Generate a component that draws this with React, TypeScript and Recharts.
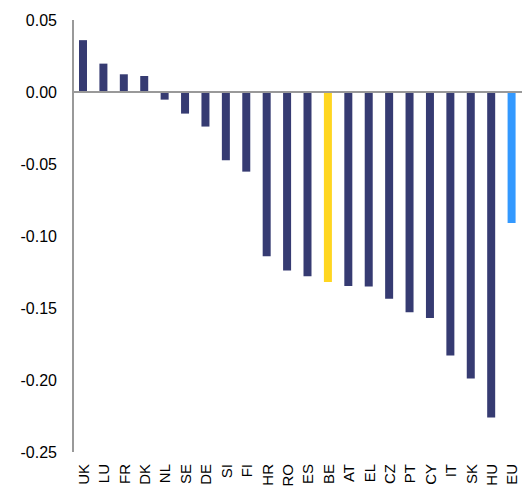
import { BarChart, Bar, XAxis, YAxis, Cell, ReferenceLine } from "recharts";

const countries = ["UK", "LU", "FR", "DK", "NL", "SE", "DE", "SI", "FI", "HR", "RO", "ES", "BE", "AT", "EL", "CZ", "PT", "CY", "IT", "SK", "HU", "EU"];
const values = [0.036, 0.0197, 0.0123, 0.0111, -0.0053, -0.015, -0.024, -0.0474, -0.0553, -0.114, -0.124, -0.128, -0.132, -0.1347, -0.135, -0.1435, -0.153, -0.157, -0.183, -0.199, -0.226, -0.091];
const yTicks = [0.05, 0, -0.05, -0.1, -0.15, -0.2, -0.25];

const NAVY = "#363B72";
const BE_YELLOW = "#FFD620";
const EU_BLUE = "#3399FF";

const data = countries.map((c, i) => ({ country: c, value: values[i] }));

function barColor(name: string) {
  if (name === "BE") return BE_YELLOW;
  if (name === "EU") return EU_BLUE;
  return NAVY;
}

export default function App() {
  return (
    <div style={{ position: "absolute", left: 0, top: 0, fontFamily: "'Liberation Sans', Arial, sans-serif" }}>
      <BarChart width={524} height={490} data={data} margin={{ top: 20, right: 2, bottom: 0, left: 0 }}>
        <XAxis
          dataKey="country"
          interval={0}
          axisLine={false}
          tickLine={false}
          angle={-90}
          textAnchor="end"
          height={38}
          tick={{ fontSize: 15, fill: "#000", dx: -5, dy: 4 }}
        />
        <YAxis
          domain={[-0.25, 0.05]}
          ticks={yTicks}
          tickFormatter={(v: number) => v.toFixed(2)}
          tickLine={false}
          axisLine={{ stroke: "#999", strokeWidth: 2 }}
          width={73}
          tick={{ fontSize: 16, fill: "#000" }}
          tickMargin={10}
        />
        <ReferenceLine y={0} stroke="#999" strokeWidth={2} ifOverflow="extendDomain" />
        <Bar dataKey="value" barSize={8} isAnimationActive={false}>
          {data.map((d) => (
            <Cell key={d.country} fill={barColor(d.country)} />
          ))}
        </Bar>
      </BarChart>
    </div>
  );
}
